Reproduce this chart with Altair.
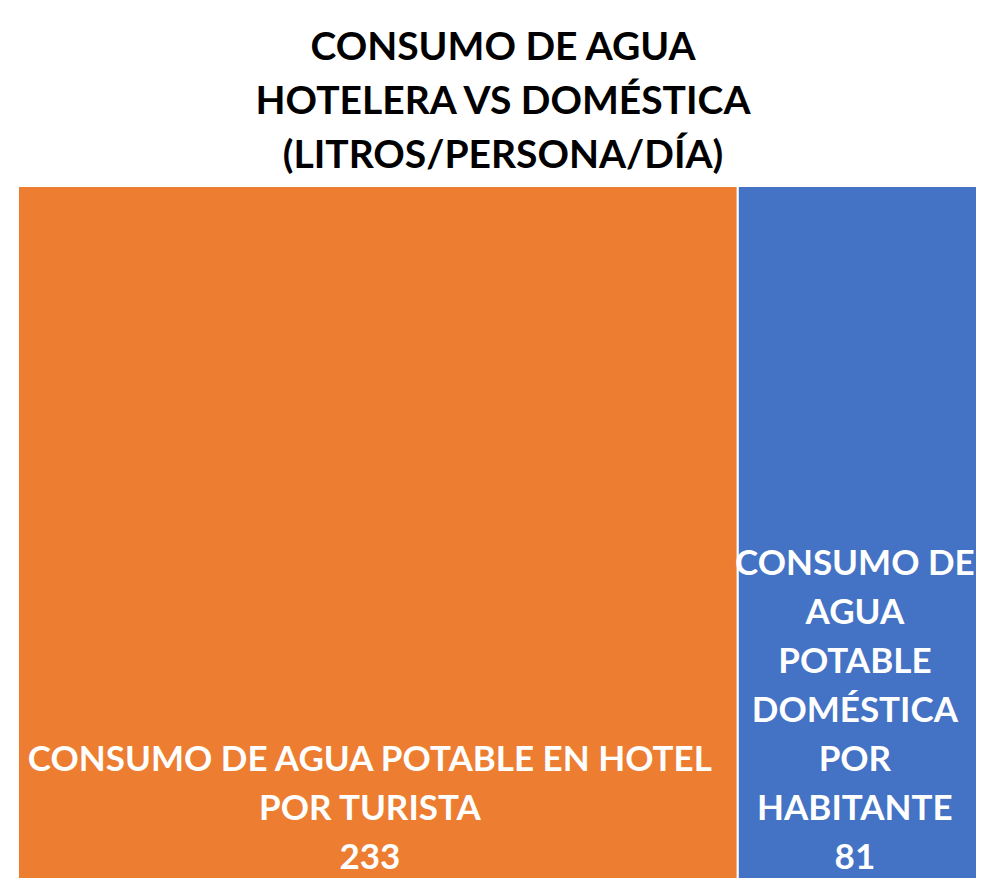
import altair as alt
import pandas as pd

# Data
categories = ["Hotel por turista", "Doméstica por habitante"]
labels = [
    "CONSUMO DE AGUA POTABLE EN HOTEL\nPOR TURISTA",
    "CONSUMO DE\nAGUA\nPOTABLE\nDOMÉSTICA\nPOR\nHABITANTE",
]
values = [233, 81]
colors = ["#ED7D31", "#4472C4"]
title_lines = ["CONSUMO DE AGUA", "HOTELERA VS DOMÉSTICA", "(LITROS/PERSONA/DÍA)"]

df = pd.DataFrame({"cat": categories, "label": labels, "value": values, "order": [0, 1]})
title_df = pd.DataFrame({"t": ["\n".join(title_lines)]})

W = 958          # visible plot width
RANGE = 970      # treemap extends slightly past the right edge, as in the reference
H = 692
LH = 49
total = sum(values)

base = alt.Chart(df).transform_window(
    cum="sum(value)", sort=[alt.SortField("order")]
).transform_calculate(
    start="datum.cum - datum.value",
    mid="datum.cum - datum.value / 2",
    txt="datum.label + '\\n' + datum.value",
    nlines="length(split(datum.label, '\\n')) + 1",
).transform_calculate(
    ybase=f"{H - 9} - (datum.nlines - 1) * {LH}",
)

xscale = alt.Scale(domain=[0, total], range=[0, RANGE], nice=False, zero=True)
yscale = alt.Scale(domain=[0, H], range=[0, H], nice=False, zero=True)

rects = base.mark_rect(stroke="white", strokeWidth=2).encode(
    x=alt.X("start:Q", scale=xscale, axis=None),
    x2="cum:Q",
    y=alt.value(0),
    y2=alt.value(H + 20),
    color=alt.Color("cat:N", scale=alt.Scale(domain=categories, range=colors), legend=None),
)

texts = base.mark_text(
    color="white", font="Lato", fontWeight="bold", fontSize=35,
    lineBreak="\n", lineHeight=LH, align="center", baseline="alphabetic", dx=-8,
).encode(
    x=alt.X("mid:Q", scale=xscale, axis=None),
    y=alt.Y("ybase:Q", scale=yscale, axis=None),
    text="txt:N",
)

title = alt.Chart(title_df).mark_text(
    color="black", font="Lato", fontWeight="bold", fontSize=39,
    lineBreak="\n", lineHeight=54, align="center", baseline="alphabetic",
).encode(
    x=alt.value(485),
    y=alt.value(-126),
    text="t:N",
)

chart = alt.layer(rects, texts, title).properties(
    width=W,
    height=H,
    padding={"left": 10, "top": 178, "right": 0, "bottom": 0},
    autosize=alt.AutoSizeParams(type="none"),
    background="white",
).configure_view(strokeWidth=0)

chart.save("out.html", embed_options={"renderer": "svg", "actions": False})
